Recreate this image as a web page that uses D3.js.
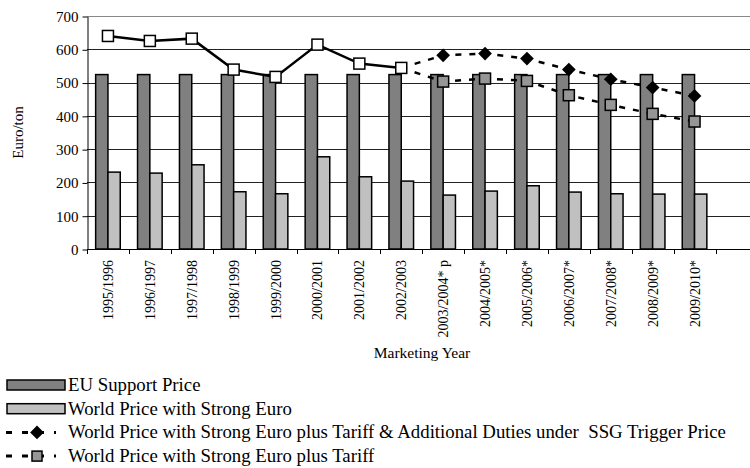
<meta charset="utf-8" />
<script src="https://d3js.org/d3.v7.min.js"></script>
<style>
  body { margin: 0; background: #fff; }
</style>
<div id="chart"></div>
<script>
  const years = ['1995/1996', '1996/1997', '1997/1998', '1998/1999', '1999/2000', '2000/2001',
    '2001/2002', '2002/2003', '2003/2004* p', '2004/2005*', '2005/2006*', '2006/2007*',
    '2007/2008*', '2008/2009*', '2009/2010*'];
  const euSupport = [524, 524, 524, 524, 524, 524, 524, 524, 524, 524, 524, 524, 524, 524, 524];
  const worldPrice = [231, 228, 253, 172, 166, 277, 217, 204, 162, 174, 190, 171, 166, 165, 165];
  // solid line with white squares, 1995/1996 .. 2002/2003
  const strongEuro = [640, 625, 632, 539, 517, 614, 557, 544];
  // dashed series start from the 2002/2003 point (no marker there)
  const ssgPrice = [544, 582, 587, 572, 539, 510, 485, 460];
  const tariffPrice = [544, 503, 512, 505, 462, 433, 406, 383];
  const yTicks = [0, 100, 200, 300, 400, 500, 600, 700];

  const W = 750, H = 468;
  const mLeft = 87, mTop = 16, mBottom = 249;
  const slot = 41.9;
  const serif = "'Liberation Serif', 'Times New Roman', serif";

  const svg = d3.select('#chart').append('svg').attr('width', W).attr('height', H);

  const x = d3.scaleBand().domain(years.concat([''])).range([mLeft, mLeft + slot * 16]);
  const y = d3.scaleLinear().domain([0, 700]).range([mBottom, mTop]);

  // gridlines
  svg.append('g').selectAll('line').data(yTicks.slice(1)).join('line')
    .attr('x1', mLeft).attr('x2', W)
    .attr('y1', d => Math.round(y(d)) + 0.5).attr('y2', d => Math.round(y(d)) + 0.5)
    .attr('stroke', d => d === 700 ? '#888' : '#222').attr('stroke-width', 1);

  // y axis
  const yAxis = svg.append('g').attr('transform', `translate(${mLeft + 0.5},0.5)`)
    .call(d3.axisLeft(y).tickValues(yTicks).tickSize(5).tickPadding(4).tickSizeOuter(0));
  yAxis.select('.domain').attr('stroke', '#000');
  yAxis.selectAll('line').attr('stroke', '#000');
  yAxis.selectAll('text').attr('fill', '#000')
    .style('font-family', serif).style('font-size', '15px');

  // bars
  const bw = 12.3;
  svg.append('g').selectAll('rect').data(years).join('rect')
    .attr('x', d => x(d) + x.bandwidth() / 2 - bw)
    .attr('y', (d, i) => y(euSupport[i]))
    .attr('width', bw).attr('height', (d, i) => mBottom - y(euSupport[i]))
    .attr('fill', '#808080').attr('stroke', '#000').attr('stroke-width', 1.5);
  svg.append('g').selectAll('rect').data(years).join('rect')
    .attr('x', d => x(d) + x.bandwidth() / 2)
    .attr('y', (d, i) => y(worldPrice[i]))
    .attr('width', bw).attr('height', (d, i) => mBottom - y(worldPrice[i]))
    .attr('fill', '#c0c0c0').attr('stroke', '#000').attr('stroke-width', 1.5);

  // x axis
  const xAxisG = svg.append('g');
  xAxisG.append('line').attr('x1', mLeft).attr('x2', W)
    .attr('y1', mBottom + 0.5).attr('y2', mBottom + 0.5).attr('stroke', '#000');
  xAxisG.selectAll('.tk').data(years.concat([''])).join('line')
    .attr('x1', d => Math.round(x(d)) + 0.5).attr('x2', d => Math.round(x(d)) + 0.5)
    .attr('y1', mBottom).attr('y2', mBottom + 5).attr('stroke', '#000');
  xAxisG.selectAll('text').data(years).join('text')
    .attr('transform', d => `translate(${x(d) + x.bandwidth() / 2 + 5},${mBottom + 11}) rotate(-90)`)
    .attr('text-anchor', 'end')
    .style('font-family', serif).style('font-size', '14px')
    .text(d => d);

  const cx = d => x(d) + x.bandwidth() / 2;

  // lines
  const solidPts = strongEuro.map((v, i) => [cx(years[i]), y(v)]);
  const dashYears = years.slice(7);
  const ssgPts = ssgPrice.map((v, i) => [cx(dashYears[i]), y(v)]);
  const tarPts = tariffPrice.map((v, i) => [cx(dashYears[i]), y(v)]);

  svg.append('path').attr('d', d3.line()(ssgPts)).attr('fill', 'none')
    .attr('stroke', '#000').attr('stroke-width', 2.5).attr('stroke-dasharray', '6,8');
  svg.append('path').attr('d', d3.line()(tarPts)).attr('fill', 'none')
    .attr('stroke', '#000').attr('stroke-width', 2.5).attr('stroke-dasharray', '6,8');
  svg.append('path').attr('d', d3.line()(solidPts)).attr('fill', 'none')
    .attr('stroke', '#000').attr('stroke-width', 2.5);

  const sq = 11;
  svg.append('g').selectAll('rect').data(solidPts).join('rect')
    .attr('x', d => d[0] - sq / 2).attr('y', d => d[1] - sq / 2)
    .attr('width', sq).attr('height', sq)
    .attr('fill', '#fff').attr('stroke', '#000').attr('stroke-width', 1.5);
  svg.append('g').selectAll('rect').data(tarPts.slice(1)).join('rect')
    .attr('x', d => d[0] - sq / 2).attr('y', d => d[1] - sq / 2)
    .attr('width', sq).attr('height', sq)
    .attr('fill', '#969696').attr('stroke', '#000').attr('stroke-width', 1.5);
  const diamond = d3.symbol().type(d3.symbolDiamond2).size(120);
  svg.append('g').selectAll('path').data(ssgPts.slice(1)).join('path')
    .attr('transform', d => `translate(${d[0]},${d[1]})`)
    .attr('d', diamond).attr('fill', '#000');

  // axis titles
  svg.append('text').attr('transform', `translate(23,${(mTop + mBottom) / 2}) rotate(-90)`)
    .attr('text-anchor', 'middle')
    .style('font-family', serif).style('font-size', '15px')
    .text('Euro/ton');
  svg.append('text').attr('x', 422).attr('y', 358)
    .attr('text-anchor', 'middle')
    .style('font-family', serif).style('font-size', '15.5px')
    .text('Marketing Year');

  // legend
  const legend = [
    { label: 'EU Support Price', kind: 'bar', fill: '#808080' },
    { label: 'World Price with Strong Euro', kind: 'bar', fill: '#c0c0c0' },
    { label: 'World Price with Strong Euro plus Tariff & Additional Duties under\u00a0 SSG Trigger Price', kind: 'diamond' },
    { label: 'World Price with Strong Euro plus Tariff', kind: 'square' },
  ];
  const lg = svg.append('g').selectAll('g').data(legend).join('g')
    .attr('transform', (d, i) => `translate(0,${385 + i * 23.7})`);
  lg.filter(d => d.kind === 'bar').append('rect')
    .attr('x', 7).attr('y', -5).attr('width', 58).attr('height', 10)
    .attr('fill', d => d.fill).attr('stroke', '#000').attr('stroke-width', 1.5);
  lg.filter(d => d.kind !== 'bar').append('line')
    .attr('x1', 6).attr('x2', 56).attr('y1', 0).attr('y2', 0)
    .attr('stroke', '#000').attr('stroke-width', 3).attr('stroke-dasharray', '6,10');
  lg.filter(d => d.kind === 'diamond').append('path')
    .attr('transform', 'translate(37,0)').attr('d', diamond).attr('fill', '#000');
  lg.filter(d => d.kind === 'square').append('rect')
    .attr('x', 32).attr('y', -5).attr('width', 10).attr('height', 10)
    .attr('fill', '#969696').attr('stroke', '#000').attr('stroke-width', 1.5);
  lg.append('text').attr('x', 68).attr('y', 6)
    .style('font-family', serif).style('font-size', '18.8px')
    .text(d => d.label);
</script>
